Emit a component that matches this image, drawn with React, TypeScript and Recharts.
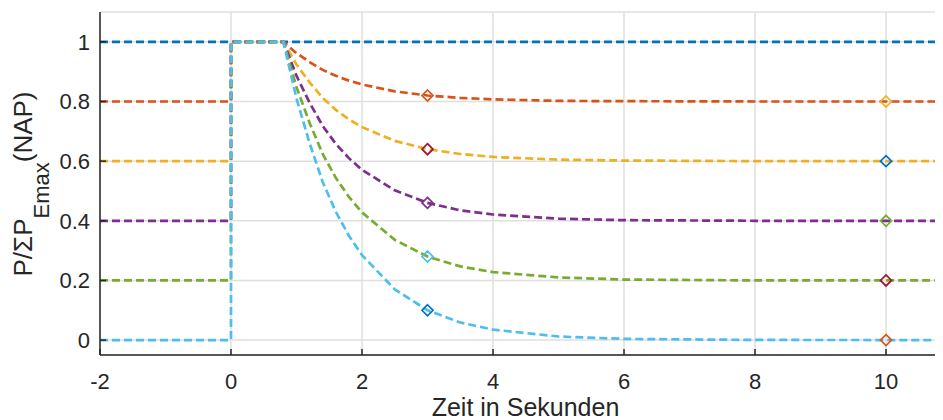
import React from "react";
import {
  ComposedChart,
  Line,
  Scatter,
  XAxis,
  YAxis,
  CartesianGrid,
  ReferenceLine,
} from "recharts";

// x positions (seconds) shared by the step curves
const stepX = [-2, 0, 0, 0.8, 1.0, 1.2, 1.4, 1.6, 1.8, 2.0, 2.5, 3, 3.5, 4, 5, 6, 8, 10.87];

// values
const blueY = [1, 1, 1, 1, 1, 1, 1, 1, 1, 1, 1, 1, 1, 1, 1, 1, 1, 1];
const orangeY = [0.8, 0.8, 1, 1, 0.962, 0.932, 0.906, 0.886, 0.87, 0.857, 0.834, 0.82, 0.812, 0.807, 0.802, 0.801, 0.8, 0.8];
const yellowY = [0.6, 0.6, 1, 1, 0.924, 0.864, 0.812, 0.772, 0.74, 0.714, 0.668, 0.64, 0.624, 0.614, 0.605, 0.602, 0.6, 0.6];
const purpleY = [0.4, 0.4, 1, 1, 0.886, 0.796, 0.718, 0.658, 0.61, 0.571, 0.502, 0.46, 0.435, 0.421, 0.407, 0.402, 0.4, 0.4];
const greenY = [0.2, 0.2, 1, 1, 0.848, 0.728, 0.624, 0.544, 0.48, 0.428, 0.336, 0.28, 0.247, 0.228, 0.21, 0.203, 0.2, 0.2];
const cyanY = [0, 0, 1, 1, 0.81, 0.66, 0.53, 0.43, 0.35, 0.285, 0.17, 0.1, 0.059, 0.035, 0.012, 0.004, 0.0005, 0];

// diamond markers
const markX1 = 3;
const markY1 = [0.82, 0.64, 0.46, 0.28, 0.1];
const markC1 = ["#D95319", "#A2142F", "#7E2F8E", "#4DBEEE", "#0072BD"];
const markX2 = 10;
const markY2 = [0.8, 0.6, 0.4, 0.2, 0];
const markC2 = ["#EDB120", "#0072BD", "#77AC30", "#A2142F", "#D95319"];

const xTicks = [-2, 0, 2, 4, 6, 8, 10];
const yTicks = [0, 0.2, 0.4, 0.6, 0.8, 1];

const series = [
  { name: "s1", color: "#0072BD", values: blueY },
  { name: "s2", color: "#D95319", values: orangeY },
  { name: "s3", color: "#EDB120", values: yellowY },
  { name: "s4", color: "#7E2F8E", values: purpleY },
  { name: "s5", color: "#77AC30", values: greenY },
  { name: "s6", color: "#4DBEEE", values: cyanY },
];

const toPoints = (ys: number[]) => ys.map((y, i) => ({ x: stepX[i], y }));

const markers1 = markY1.map((y, i) => ({ x: markX1, y, color: markC1[i] }));
const markers2 = markY2.map((y, i) => ({ x: markX2, y, color: markC2[i] }));

const FONT = '"Liberation Sans", Arial, Helvetica, sans-serif';
const INK = "#262626";

const Diamond = (props: any) => {
  const { cx, cy, payload } = props;
  const r = 5.5;
  return (
    <path
      d={`M${cx},${cy - r} L${cx + r},${cy} L${cx},${cy + r} L${cx - r},${cy} Z`}
      fill="none"
      stroke={payload.color}
      strokeWidth={1.7}
    />
  );
};

const YLabel = () => (
  <text
    x={24}
    y={176}
    transform="rotate(-90 24 176)"
    textAnchor="middle"
    fontFamily={FONT}
    fontSize={26}
    fill={INK}
  >
    P/ΣP
    <tspan dy={17} fontSize={22}>
      Emax
    </tspan>
    <tspan dy={-17}>(NAP)</tspan>
  </text>
);

export default function App() {
  return (
    <div style={{ width: 935, height: 412 }}>
      <ComposedChart
        width={935}
        height={412}
        margin={{ top: 4, right: 0, bottom: 0, left: 0 }}
      >
        <CartesianGrid stroke="#dfdfdf" strokeWidth={1.5} />
        <XAxis
          type="number"
          dataKey="x"
          domain={[-2, 10.87]}
          ticks={xTicks}
          allowDataOverflow
          height={65}
          tickSize={-6}
          tickMargin={24}
          axisLine={{ stroke: INK, strokeWidth: 1.5 }}
          tickLine={{ stroke: INK, strokeWidth: 1.5 }}
          tick={{ fontSize: 22, fill: INK, fontFamily: FONT }}
          label={{
            value: "Zeit in Sekunden",
            position: "insideBottom",
            offset: 4,
            dx: 4,
            fontSize: 25,
            fill: INK,
            fontFamily: FONT,
          }}
        />
        <XAxis
          xAxisId="top"
          orientation="top"
          type="number"
          domain={[-2, 10.87]}
          ticks={xTicks}
          allowDataOverflow
          height={0}
          tickSize={-6}
          axisLine={{ stroke: INK, strokeWidth: 1.5 }}
          tickLine={{ stroke: INK, strokeWidth: 1.5 }}
          tick={{ fontSize: 0, fill: "none" }}
        />
        <YAxis
          type="number"
          dataKey="y"
          domain={[-0.05, 1.1]}
          ticks={yTicks}
          allowDataOverflow
          width={92}
          tickSize={-6}
          tickMargin={16}
          axisLine={{ stroke: INK, strokeWidth: 1.5 }}
          tickLine={{ stroke: INK, strokeWidth: 1.5 }}
          tick={{ fontSize: 22, fill: INK, fontFamily: FONT }}
          tickFormatter={(v: number) => String(v)}
          label={{ content: () => <YLabel /> }}
        />
        {series.map((s) => (
          <Line
            key={s.name}
            data={toPoints(s.values)}
            dataKey="y"
            type="linear"
            stroke={s.color}
            strokeWidth={2.7}
            strokeDasharray="8 4"
            dot={false}
            activeDot={false}
            isAnimationActive={false}
          />
        ))}
        <Scatter data={markers1} dataKey="y" shape={Diamond} isAnimationActive={false} />
        <Scatter data={markers2} dataKey="y" shape={Diamond} isAnimationActive={false} />
      </ComposedChart>
    </div>
  );
}
